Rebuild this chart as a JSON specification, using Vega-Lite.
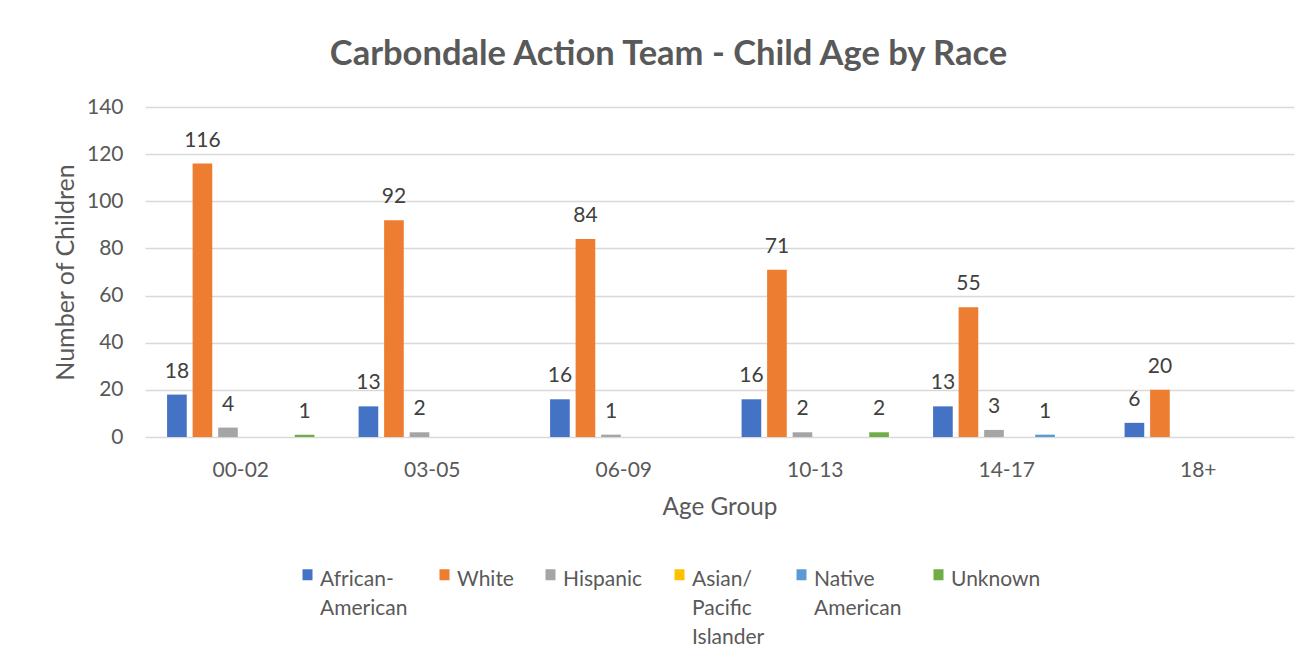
{
  "$schema": "https://vega.github.io/schema/vega-lite/v6.json",
  "width": 1149,
  "height": 330,
  "autosize": {"type": "none"},
  "padding": {"left": 145, "top": 107, "right": 13, "bottom": 232},
  "background": "white",
  "config": {
    "font": "Lato",
    "view": {"stroke": null},
    "style": {"guide-label": {"lineHeight": 29}}
  },
  "title": {
    "text": "Carbondale Action Team - Child Age by Race",
    "font": "Lato",
    "fontSize": 34.5,
    "fontWeight": "bold",
    "color": "#595959",
    "anchor": "middle",
    "dx": -51,
    "offset": 24
  },
  "data": {
    "values": [
      {"age": "00-02", "race": "African-American", "count": 18},
      {"age": "00-02", "race": "White", "count": 116},
      {"age": "00-02", "race": "Hispanic", "count": 4},
      {"age": "00-02", "race": "Asian/Pacific Islander", "count": 0},
      {"age": "00-02", "race": "Native American", "count": 0},
      {"age": "00-02", "race": "Unknown", "count": 1},
      {"age": "03-05", "race": "African-American", "count": 13},
      {"age": "03-05", "race": "White", "count": 92},
      {"age": "03-05", "race": "Hispanic", "count": 2},
      {"age": "03-05", "race": "Asian/Pacific Islander", "count": 0},
      {"age": "03-05", "race": "Native American", "count": 0},
      {"age": "03-05", "race": "Unknown", "count": 0},
      {"age": "06-09", "race": "African-American", "count": 16},
      {"age": "06-09", "race": "White", "count": 84},
      {"age": "06-09", "race": "Hispanic", "count": 1},
      {"age": "06-09", "race": "Asian/Pacific Islander", "count": 0},
      {"age": "06-09", "race": "Native American", "count": 0},
      {"age": "06-09", "race": "Unknown", "count": 0},
      {"age": "10-13", "race": "African-American", "count": 16},
      {"age": "10-13", "race": "White", "count": 71},
      {"age": "10-13", "race": "Hispanic", "count": 2},
      {"age": "10-13", "race": "Asian/Pacific Islander", "count": 0},
      {"age": "10-13", "race": "Native American", "count": 0},
      {"age": "10-13", "race": "Unknown", "count": 2},
      {"age": "14-17", "race": "African-American", "count": 13},
      {"age": "14-17", "race": "White", "count": 55},
      {"age": "14-17", "race": "Hispanic", "count": 3},
      {"age": "14-17", "race": "Asian/Pacific Islander", "count": 0},
      {"age": "14-17", "race": "Native American", "count": 1},
      {"age": "14-17", "race": "Unknown", "count": 0},
      {"age": "18+", "race": "African-American", "count": 6},
      {"age": "18+", "race": "White", "count": 20},
      {"age": "18+", "race": "Hispanic", "count": 0},
      {"age": "18+", "race": "Asian/Pacific Islander", "count": 0},
      {"age": "18+", "race": "Native American", "count": 0},
      {"age": "18+", "race": "Unknown", "count": 0}
    ]
  },
  "encoding": {
    "x": {
      "field": "age",
      "type": "nominal",
      "sort": null,
      "scale": {"paddingInner": 0.2, "paddingOuter": 0.1},
      "axis": {
        "title": "Age Group",
        "labelAngle": 0,
        "labelFontSize": 21,
        "labelColor": "#595959",
        "labelPadding": 22,
        "ticks": false,
        "domain": false,
        "titleFontSize": 24.3,
        "titleFontWeight": "normal",
        "titleColor": "#595959",
        "titlePadding": 15
      }
    },
    "xOffset": {
      "field": "race",
      "type": "nominal",
      "sort": null,
      "scale": {"paddingInner": 0.23, "paddingOuter": 0.115}
    },
    "y": {
      "field": "count",
      "type": "quantitative",
      "scale": {"domain": [0, 140], "nice": false},
      "axis": {
        "values": [0, 20, 40, 60, 80, 100, 120, 140],
        "title": "Number of Children",
        "labelFontSize": 21,
        "labelColor": "#595959",
        "labelPadding": 22,
        "ticks": false,
        "domain": false,
        "gridColor": "#d9d9d9",
        "gridWidth": 1.3,
        "titleFontSize": 25,
        "titleFontWeight": "normal",
        "titleColor": "#595959",
        "titlePadding": 8
      }
    }
  },
  "layer": [
    {
      "mark": {"type": "bar"},
      "encoding": {
        "color": {
          "field": "race",
          "type": "nominal",
          "sort": null,
          "scale": {
            "domain": ["African-American", "White", "Hispanic", "Asian/Pacific Islander", "Native American", "Unknown"],
            "range": ["#4472C4", "#ED7D31", "#A5A5A5", "#FFC000", "#5B9BD5", "#70AD47"]
          },
          "legend": {
            "title": null,
            "orient": "none",
            "legendX": 152,
            "legendY": 451,
            "direction": "horizontal",
            "columns": 6,
            "columnPadding": 26,
            "padding": 0,
            "symbolType": "M-1,0.1H1V2.3H-1Z",
            "symbolSize": 100,
            "symbolStrokeWidth": 0,
            "labelFontSize": 21,
            "labelColor": "#595959",
            "labelOffset": 2,
            "labelBaseline": "top",
            "labelLimit": 300,
            "labelExpr": "datum.label == 'African-American' ? ['African-', 'American', ''] : datum.label == 'Asian/Pacific Islander' ? ['Asian/', 'Pacific', 'Islander'] : datum.label == 'Native American' ? ['Native', 'American', ''] : [datum.label, '', '']"
          }
        }
      }
    },
    {
      "transform": [{"filter": "datum.count > 0"}],
      "mark": {"type": "text", "baseline": "alphabetic", "dy": -17, "fontSize": 21, "color": "#404040"},
      "encoding": {"text": {"field": "count", "type": "quantitative"}}
    }
  ]
}
